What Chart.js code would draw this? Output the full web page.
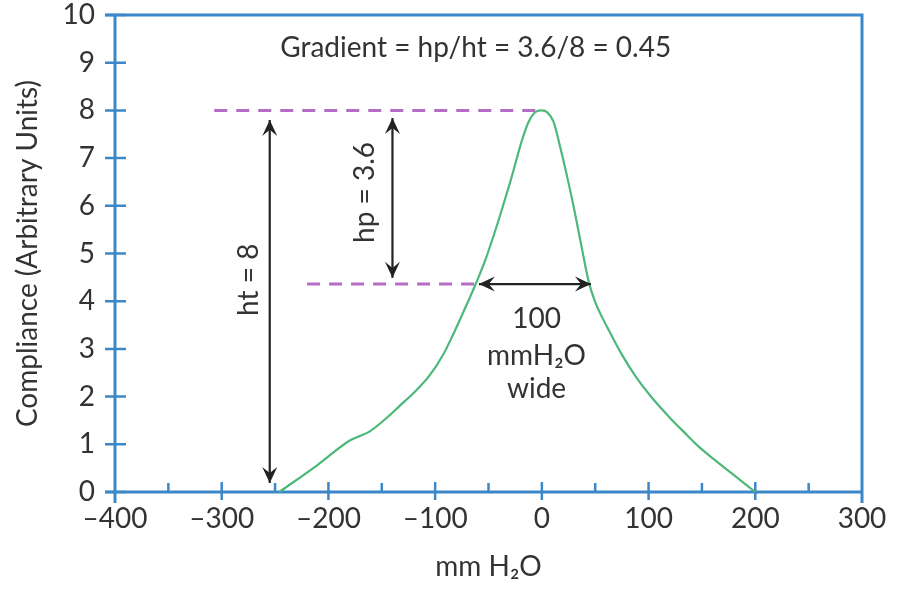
<!DOCTYPE html>
<html>
<head>
<meta charset="utf-8">
<script src="https://cdn.jsdelivr.net/npm/chart.js@4.4.1/dist/chart.umd.min.js"></script>
<style>
  html, body { margin: 0; padding: 0; background: #fff; }
</style>
</head>
<body>
<canvas id="c" width="897" height="590"></canvas>
<script>
// Curva de compliancia
const pressure   = [-246, -210, -180, -170, -162, -143, -134, -120, -105, -92, -84, -75, -68, -62, -53, -46, -38, -29, -18, -12, -5, 0, 5, 11, 17, 24, 31, 38, 44, 50, 57, 63, 75, 88, 103, 119, 133, 147, 166, 183, 200];
const compliance = [0, 0.57, 1.08, 1.18, 1.26, 1.6, 1.79, 2.08, 2.45, 2.9, 3.26, 3.7, 4.05, 4.36, 4.86, 5.32, 5.88, 6.55, 7.42, 7.78, 7.98, 8.0, 7.96, 7.76, 7.25, 6.58, 5.85, 5.05, 4.4, 3.98, 3.64, 3.38, 2.88, 2.42, 1.98, 1.58, 1.26, 0.95, 0.6, 0.3, 0];

const xTicks = [-400, -300, -200, -100, 0, 100, 200, 300];
const xMinor = [-350, -250, -150, -50, 50, 150, 250];
const yTicks = [0, 1, 2, 3, 4, 5, 6, 7, 8, 9, 10];

// líneas punteadas (x inicio, x fin, y)
const peakX = [-307, -2];   const peakY = 8;
const halfX = [-220, -62];  const halfY = 4.36;

// flechas [x1, y1, x2, y2]
const arrowHt = [-255, 0.19, -255, 7.8];
const arrowHp = [-140, 4.49, -140, 7.84];
const arrowW  = [-59, 4.36, 46, 4.36];

const AXIS = '#3b87c8';
const TXT = '#333333';
const FONT = 'Lato';
const FS = 28;

const pts = pressure.map((p, i) => ({ x: p, y: compliance[i] }));

function arrowHead(ctx, x1, y1, x2, y2) {
  // punta en (x2, y2)
  const ang = Math.atan2(y2 - y1, x2 - x1);
  const len = 16, w = 7.5;
  ctx.save();
  ctx.translate(x2, y2);
  ctx.rotate(ang);
  ctx.beginPath();
  ctx.moveTo(0, 0);
  ctx.lineTo(-len, -w);
  ctx.lineTo(-len * 0.62, 0);
  ctx.lineTo(-len, w);
  ctx.closePath();
  ctx.fill();
  ctx.restore();
}

function drawArrow(ctx, x, y, a) {
  const x1 = x.getPixelForValue(a[0]), y1 = y.getPixelForValue(a[1]);
  const x2 = x.getPixelForValue(a[2]), y2 = y.getPixelForValue(a[3]);
  ctx.beginPath();
  ctx.moveTo(x1, y1); ctx.lineTo(x2, y2);
  ctx.stroke();
  arrowHead(ctx, x1, y1, x2, y2);
  arrowHead(ctx, x2, y2, x1, y1);
}

const frame = {
  id: 'frame',
  beforeDatasetsDraw(chart) {
    const { ctx, chartArea: a, scales: { x, y } } = chart;
    ctx.save();
    ctx.strokeStyle = AXIS;
    ctx.lineWidth = 3;
    ctx.beginPath();
    ctx.moveTo(a.left - 10, a.top); ctx.lineTo(a.right, a.top); ctx.lineTo(a.right, a.bottom + 11);
    ctx.moveTo(a.left, a.top); ctx.lineTo(a.left, a.bottom + 11);
    ctx.moveTo(a.left - 10, a.bottom); ctx.lineTo(a.right, a.bottom);
    ctx.stroke();
    ctx.lineWidth = 2.5;
    ctx.beginPath();
    yTicks.forEach(v => {
      const py = y.getPixelForValue(v);
      ctx.moveTo(a.left - 10, py); ctx.lineTo(a.left + 11, py);
    });
    xTicks.slice(1, -1).forEach(v => {
      const px = x.getPixelForValue(v);
      ctx.moveTo(px, a.bottom - 10); ctx.lineTo(px, a.bottom + 8);
    });
    xMinor.forEach(v => {
      const px = x.getPixelForValue(v);
      ctx.moveTo(px, a.bottom - 9); ctx.lineTo(px, a.bottom);
    });
    ctx.stroke();
    ctx.restore();
  },
  afterDraw(chart) {
    const { ctx, scales: { x, y } } = chart;
    ctx.save();
    ctx.strokeStyle = '#222';
    ctx.fillStyle = '#222';
    ctx.lineWidth = 2.2;
    [arrowHt, arrowHp, arrowW].forEach(a => drawArrow(ctx, x, y, a));

    ctx.fillStyle = TXT;
    ctx.textAlign = 'center';
    ctx.textBaseline = 'middle';
    ctx.font = `${FS}px ${FONT}`;
    ctx.fillText('Gradient = hp/ht = 3.6/8 = 0.45', x.getPixelForValue(-62), y.getPixelForValue(9.3));

    ctx.fillText('100', x.getPixelForValue(-5), y.getPixelForValue(3.63));
    ctx.fillText('mmH\u2082O', x.getPixelForValue(-5), y.getPixelForValue(2.85));
    ctx.fillText('wide', x.getPixelForValue(-5), y.getPixelForValue(2.15));

    const rot = (txt, vx, vy) => {
      ctx.save();
      ctx.translate(x.getPixelForValue(vx), y.getPixelForValue(vy));
      ctx.rotate(-Math.PI / 2);
      ctx.fillText(txt, 0, 0);
      ctx.restore();
    };
    rot('ht = 8', -274, 4.45);
    rot('hp = 3.6', -166, 6.28);
    ctx.restore();
  }
};

new Chart('c', {
  type: 'scatter',
  data: {
    datasets: [
      { data: pts, showLine: true, borderColor: '#4cb879', borderWidth: 2.2, pointRadius: 0, cubicInterpolationMode: 'monotone' },
      { data: peakX.map(v => ({ x: v, y: peakY })), showLine: true, borderColor: '#b56cc4', borderWidth: 3, borderDash: [13, 9], pointRadius: 0 },
      { data: halfX.map(v => ({ x: v, y: halfY })), showLine: true, borderColor: '#b56cc4', borderWidth: 3, borderDash: [13, 9], pointRadius: 0 }
    ]
  },
  options: {
    responsive: false,
    animation: false,
    layout: { padding: { top: 15, right: 35, left: 0, bottom: 0 } },
    plugins: { legend: { display: false }, tooltip: { enabled: false } },
    scales: {
      x: {
        type: 'linear', min: -400, max: 300,
        afterBuildTicks: s => { s.ticks = xTicks.map(v => ({ value: v })); },
        afterFit: s => { s.height = 98; s.paddingLeft = 0; s.paddingRight = 0; },
        grid: { display: false, drawTicks: false },
        border: { display: false },
        ticks: {
          color: TXT, padding: 10, maxRotation: 0, autoSkip: false,
          font: { family: FONT, size: FS },
          callback: v => v < 0 ? '\u2013' + Math.abs(v) : String(v)
        },
        title: { display: true, text: 'mm H\u2082O', color: TXT, font: { family: FONT, size: FS }, padding: { top: 0, bottom: 6 } }
      },
      y: {
        type: 'linear', min: 0, max: 10,
        afterBuildTicks: s => { s.ticks = yTicks.map(v => ({ value: v })); },
        afterFit: s => { s.width = 115; s.paddingTop = 0; s.paddingBottom = 0; },
        grid: { display: false, drawTicks: false },
        border: { display: false },
        ticks: { color: TXT, padding: 20, autoSkip: false, font: { family: FONT, size: FS } },
        title: { display: true, text: 'Compliance (Arbitrary Units)', color: TXT, font: { family: FONT, size: FS }, padding: { top: 11, bottom: 0 } }
      }
    }
  },
  plugins: [frame]
});
</script>
</body>
</html>
